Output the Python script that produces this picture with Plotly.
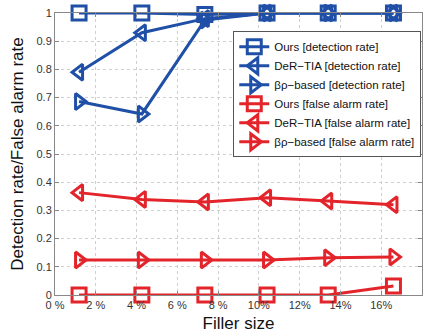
import plotly.graph_objects as go

filler = [0.0118, 0.0426, 0.0735, 0.104, 0.134, 0.166]
ours_det = [1.0, 1.0, 0.995, 1.0, 1.0, 1.0]
der_det = [0.79, 0.93, 0.98, 1.0, 1.0, 1.0]
bp_det = [0.686, 0.642, 0.975, 1.0, 1.0, 1.0]
ours_far = [0.0, 0.0, 0.0, 0.0, 0.0, 0.032]
der_far = [0.363, 0.339, 0.33, 0.345, 0.333, 0.32]
bp_far = [0.124, 0.124, 0.124, 0.124, 0.132, 0.135]

x_tickvals = [0, 0.02, 0.04, 0.06, 0.08, 0.10, 0.12, 0.14, 0.16, 0.18]
x_ticktext = ["0 %", "2 %", "4 %", "6 %", "8 %", "10%", "12%", "14%", "16%", "18%"]
y_tickvals = [0, 0.1, 0.2, 0.3, 0.4, 0.5, 0.6, 0.7, 0.8, 0.9, 1.0]
y_ticktext = ["0", "0.1", "0.2", "0.3", "0.4", "0.5", "0.6", "0.7", "0.8", "0.9", "1"]

BLUE = "#1f4fa6"
RED = "#e3242b"

series = [
    ("Ours [detection rate]", ours_det, BLUE, "square-open"),
    ("DeR\u2212TIA [detection rate]", der_det, BLUE, "triangle-left-open"),
    ("\u03b2\u03c1\u2212based [detection rate]", bp_det, BLUE, "triangle-right-open"),
    ("Ours [false alarm rate]", ours_far, RED, "square-open"),
    ("DeR\u2212TIA [false alarm rate]", der_far, RED, "triangle-left-open"),
    ("\u03b2\u03c1\u2212based [false alarm rate]", bp_far, RED, "triangle-right-open"),
]

fig = go.Figure()
for name, ys, color, sym in series:
    fig.add_trace(go.Scatter(
        x=filler, y=ys, name=name, mode="lines+markers",
        line=dict(color=color, width=3),
        marker=dict(symbol=sym, size=14, color=color, line=dict(color=color, width=3)),
        cliponaxis=False,
    ))

font = "Liberation Sans, Arial, sans-serif"
fig.update_layout(
    width=433, height=336,
    margin=dict(l=55, r=11, t=7, b=39),
    paper_bgcolor="white", plot_bgcolor="white",
    font=dict(family=font, size=11, color="#222"),
    showlegend=True,
    legend=dict(
        x=0.998, y=0.935, xanchor="right", yanchor="top",
        bgcolor="white", bordercolor="#555", borderwidth=1,
        font=dict(family=font, size=11.5, color="#111"),
        tracegroupgap=0, itemwidth=30,
    ),
    xaxis=dict(
        range=[0, 0.18], tickvals=x_tickvals, ticktext=x_ticktext,
        showgrid=True, gridcolor="#cfcfcf", griddash="dot",
        showline=True, linecolor="#888", linewidth=1, mirror="ticks",
        ticks="inside", ticklen=4, tickcolor="#888",
        zeroline=False,
        title=dict(text="Filler size", font=dict(family=font, size=17, color="#111"), standoff=6),
        tickfont=dict(family=font, size=11, color="#333"),
    ),
    yaxis=dict(
        range=[0, 1], tickvals=y_tickvals, ticktext=y_ticktext,
        showgrid=True, gridcolor="#cfcfcf", griddash="dot",
        showline=True, linecolor="#888", linewidth=1, mirror="ticks",
        ticks="inside", ticklen=4, tickcolor="#888",
        zeroline=False,
        title=dict(text="Detection rate/False alarm rate", font=dict(family=font, size=17, color="#111"), standoff=8),
        tickfont=dict(family=font, size=11, color="#333"),
    ),
)

fig.write_html("out.html", config={"displayModeBar": False},
               post_script="document.body.style.margin='0';")
